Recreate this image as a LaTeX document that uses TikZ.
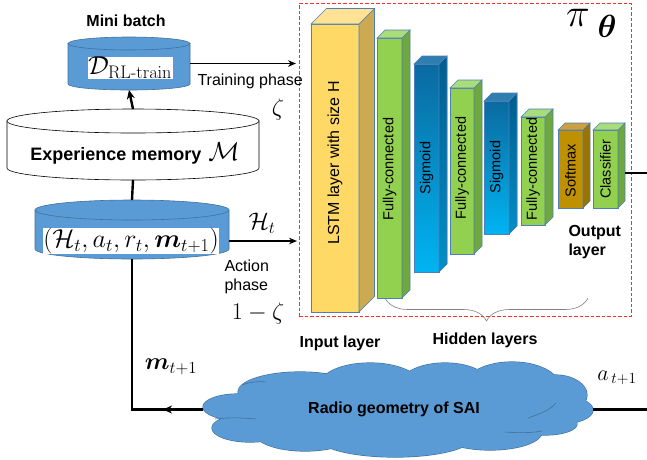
\RequirePackage{fix-cm}
\documentclass[tikz,border=0pt]{standalone}
\usepackage{amsmath}
\usepackage{bm}
\usepackage[no-math]{fontspec}
\setmainfont{Liberation Sans}
\usetikzlibrary{decorations.pathreplacing,arrows.meta}

\definecolor{cylblue}{HTML}{5B9BD5}
\definecolor{cylborder}{HTML}{41719C}
\definecolor{lyrborder}{HTML}{4F7FB8}
\definecolor{lstmfront}{HTML}{FFD966}
\definecolor{lstmside}{HTML}{CCAA52}
\definecolor{lstmtop}{HTML}{FFE294}
\definecolor{fcfront}{HTML}{92D050}
\definecolor{fcside}{HTML}{70A840}
\definecolor{fctop}{HTML}{A9DC7A}
\definecolor{sgtop}{HTML}{0A6AA0}
\definecolor{sgbot}{HTML}{00B4F2}
\definecolor{sgsidetop}{HTML}{005C8E}
\definecolor{sgsidebot}{HTML}{0090C8}
\definecolor{sgtopface}{HTML}{2E7EB0}
\definecolor{smxfront}{HTML}{BF9000}
\definecolor{smxside}{HTML}{9A7400}
\definecolor{smxtop}{HTML}{CCA040}
\definecolor{dashred}{HTML}{FF2A2A}

\newcommand\nnlayer[9]{%
  \node[lyr, #7, minimum width={(#4-#2)*1pt}, minimum height={(#5-#3)*1pt}] (#1) at ({(#2+#4)/2},{(#3+#5)/2}) {};
  \filldraw[lyrside, #8] (#1.north east) -- ++(#6,-#6) -- ([shift={(#6,-#6)}]#1.south east) -- (#1.south east) -- cycle;
  \filldraw[lyrside, #9] (#1.north west) -- ++(#6,-#6) -- ([shift={(#6,-#6)}]#1.north east) -- (#1.north east) -- cycle;
}

\begin{document}
\begin{tikzpicture}[x=1pt,y=-1pt,
  lyr/.style={draw=lyrborder, line width=0.6pt, inner sep=0pt, outer sep=0pt},
  lyrside/.style={draw=lyrborder, line width=0.6pt},
  lbl/.style={font=\fontsize{16}{19}\selectfont},
  blbl/.style={font=\fontsize{16}{19.5}\selectfont\bfseries},
  vtxt/.style={rotate=90, font=\fontsize{14.5}{17}\selectfont},
  mth/.style={font=\fontsize{24}{28}\selectfont},
  cylfill/.style={fill=cylblue, draw=cylborder, line width=0.6pt},
  cylwhite/.style={fill=white, draw=black, line width=0.6pt},
  conn/.style={line width=2.4pt},
  thinconn/.style={line width=1.5pt},
  bigtip/.style={-{Stealth[length=9pt,width=8pt]}},
  smalltip/.style={-{Stealth[length=8pt,width=6.5pt]}},
  hole/.style={inner sep=0pt, outer sep=0pt}
]
\useasboundingbox (0,0) rectangle (647,459);

% ---------- policy network box ----------
\node[draw=dashred, dash pattern=on 3.5pt off 2pt, line width=1pt, minimum width=332pt, minimum height=313pt, hole] (policy) at (465,159.5) {};

% ---------- layers ----------
\nnlayer{lstm}{311}{24}{359}{312}{15.5}{fill=lstmfront}{fill=lstmside}{fill=lstmtop}
\nnlayer{fca}{377}{38}{402}{298}{8}{fill=fcfront}{fill=fcside}{fill=fctop}
\nnlayer{sga}{414}{64}{439}{272}{8}{top color=sgtop,bottom color=sgbot}{top color=sgsidetop,bottom color=sgsidebot}{fill=sgtopface}
\nnlayer{fcb}{450}{88}{474}{254}{8}{fill=fcfront}{fill=fcside}{fill=fctop}
\nnlayer{sgb}{484}{101}{509}{234}{8}{top color=sgtop,bottom color=sgbot}{top color=sgsidetop,bottom color=sgsidebot}{fill=sgtopface}
\nnlayer{fcc}{521}{117}{545}{225}{8}{fill=fcfront}{fill=fcside}{fill=fctop}
\nnlayer{smx}{558}{130}{583}{208}{7}{fill=smxfront}{fill=smxside}{fill=smxtop}
\nnlayer{cls}{593}{130}{618}{208}{7}{fill=fcfront}{fill=fcside}{fill=fctop}

\node[vtxt, font=\fontsize{16}{19}\selectfont] (tlstm) at (335,163) {LSTM layer with size H};
\node[vtxt] (tfca) at (389.5,169) {Fully-connected};
\node[vtxt] (tsga) at (426.5,168) {Sigmoid};
\node[vtxt] (tfcb) at (462,168) {Fully-connected};
\node[vtxt] (tsgb) at (496.5,167) {Sigmoid};
\node[vtxt] (tfcc) at (533,169) {Fully-connected};
\node[vtxt] (tsmx) at (570.5,171) {Softmax};
\node[vtxt] (tcls) at (605.5,169) {Classifier};

\node[inner sep=0pt, font=\fontsize{40}{44}\selectfont] (pi) at (578,18) {$\pi$};
\node[inner sep=0pt, font=\fontsize{32}{36}\selectfont] (theta) at (607,26) {$\bm{\theta}$};

\draw[decorate, decoration={brace, mirror, amplitude=23pt}, draw=gray, line width=0.6pt] (385,298) -- (588,298);

\node[blbl, anchor=west, align=left] (outl) at (565,242) {Output\\layer};
\node[blbl] (inl) at (340,343) {Input layer};
\node[blbl] (hidl) at (485,340) {Hidden layers};

% ---------- mini batch cylinder ----------
\path[cylfill] (68,43.5) -- (68,84) arc[start angle=180, end angle=0, x radius=61, y radius=6] -- (190,43.5) -- cycle;
\path[cylfill] (129,43.5) ellipse[x radius=61, y radius=6.5];
\node[hole, minimum width=122pt, minimum height=53pt] (mb) at (129,63.5) {};
\node[fill=white, inner sep=0.5pt, font=\fontsize{26}{30}\selectfont] (dlbl) at (130,68) {$\mathcal{D}_{\mathrm{RL\mathchar"702D train}}$};
\node[blbl] (mbl) at (126,21) {Mini batch};

% ---------- experience memory ----------
\path[cylwhite] (7,121) -- (7,168) arc[start angle=180, end angle=0, x radius=126, y radius=12] -- (259,121) -- cycle;
\path[cylwhite] (133,121) ellipse[x radius=126, y radius=12];
\node[hole, minimum width=252pt, minimum height=71pt] (mem) at (133,144.5) {};
\node[font=\fontsize{18}{21}\selectfont\bfseries] (meml) at (135,153) {Experience memory\hspace{7pt}{\fontsize{26}{30}\selectfont$\mathcal{M}$}};

% ---------- replay buffer cylinder ----------
\path[cylfill] (35,210) -- (35,249) arc[start angle=180, end angle=0, x radius=97, y radius=10] -- (229,210) -- cycle;
\path[cylfill] (132,210) ellipse[x radius=97, y radius=10];
\node[hole, minimum width=194pt, minimum height=59pt] (buf) at (132,229.5) {};
\node[fill=white, inner sep=0.5pt, font=\fontsize{26}{30}\selectfont] (tuple) at (131,241) {$(\mathcal{H}_t, a_t, r_t, \bm{m}_{t+1})$};

% ---------- cloud (union of puffs) ----------
\def\puffs{238/407/35/13, 250/428/38/14, 300/392/62/20, 370/385/50/22, 445/385/45/22, 512/387/48/25, 555/395/32/20, 560/410/33/14, 545/424/32/11, 490/432/52/18, 395/437/78/20, 305/433/50/18, 400/410/165/30}
\foreach \cx/\cy/\rx/\ry in \puffs {\filldraw[fill=cylblue, draw=cylborder, line width=1.2pt] (\cx,\cy) ellipse[x radius=\rx, y radius=\ry];}
\foreach \cx/\cy/\rx/\ry in \puffs {\fill[cylblue] (\cx,\cy) ellipse[x radius=\rx, y radius=\ry];}
\draw[cylborder, line width=0.6pt] (215,419) .. controls (230,417) and (245,418) .. (256,419);
\draw[cylborder, line width=0.6pt] (242,385) .. controls (250,382) and (258,381) .. (266,382);
\draw[cylborder, line width=0.6pt] (528,418) .. controls (540,414) and (550,410) .. (556,403);
\draw[cylborder, line width=0.6pt] (505,432) .. controls (520,433) and (530,433) .. (542,431);
\node[hole, minimum width=390pt, minimum height=95pt] (cloud) at (398,409.5) {};
\node[blbl] (cloudl) at (394,409) {Radio geometry of SAI};

% ---------- connectors ----------
\draw[thinconn, smalltip, shorten >=3pt] (mb.east) -- (mb.east -| policy.west);
\draw[conn, bigtip] (mem.north) -- (mb.south);
\draw[conn] (mem.south) -- (buf.north);
\draw[thinconn, smalltip, shorten >=2pt] (buf.east |- tuple.east) -- (policy.west |- tuple.east);
\draw[conn] (cloud.west) -- (buf.south |- cloud.west) -- (buf.south);
\draw[conn, bigtip] (cloud.west) -- ++(-40,0);
\coordinate (rtop) at (647,173);
\coordinate (rbot) at (647,409.5);
\draw[conn] ([xshift=7pt]cls.east |- rtop) -- (rtop);
\draw[conn] (cloud.east) -- (cloud.east -| rbot);

% ---------- labels ----------
\node[lbl, anchor=west] (trl) at (194,81) {Training phase};
\node[mth] (zeta) at (278,109) {$\zeta$};
\node[mth] (htl) at (262,223) {$\mathcal{H}_t$};
\node[lbl, anchor=west, align=left] (actl) at (221,277) {Action\\phase};
\node[mth] (omz) at (258,313) {$1-\zeta$};
\node[mth] (ml) at (171,367) {$\bm{m}_{t+1}$};
\node[font=\fontsize{22}{26}\selectfont] (al) at (617,378) {$a_{\,t+1}$};
\end{tikzpicture}
\end{document}
